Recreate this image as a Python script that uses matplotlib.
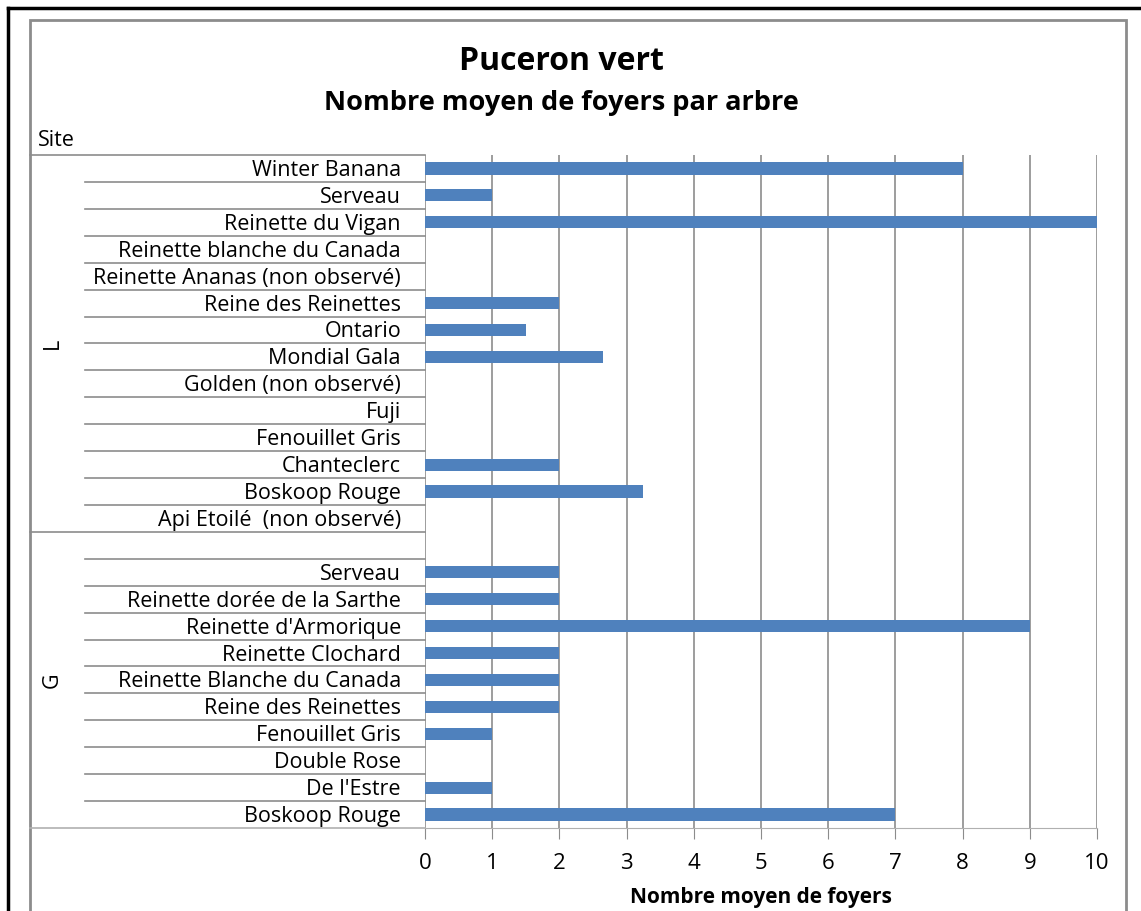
import matplotlib.pyplot as plt
from matplotlib.lines import Line2D
from matplotlib.patches import Rectangle
import numpy as np

plt.rcParams['font.family'] = ['Open Sans', 'DejaVu Sans']

# categories from top to bottom
site_l = ['Winter Banana', 'Serveau', 'Reinette du Vigan', 'Reinette blanche du Canada',
          'Reinette Ananas (non observé)', 'Reine des Reinettes', 'Ontario', 'Mondial Gala',
          'Golden (non observé)', 'Fuji', 'Fenouillet Gris', 'Chanteclerc', 'Boskoop Rouge',
          'Api Etoilé  (non observé)']
vals_l = [8, 1, 10, 0, 0, 2, 1.5, 2.65, 0, 0, 0, 2, 3.25, 0]

site_g = ['', 'Serveau', 'Reinette dorée de la Sarthe', "Reinette d'Armorique",
          'Reinette Clochard', 'Reinette Blanche du Canada', 'Reine des Reinettes',
          'Fenouillet Gris', 'Double Rose', "De l'Estre", 'Boskoop Rouge']
vals_g = [0, 2, 2, 9, 2, 2, 2, 1, 0, 1, 7]

xticks = list(range(0, 11))

W, H = 1141, 911
fig = plt.figure(figsize=(W / 100, H / 100), dpi=100)


def fx(px):
    return px / W


def fy(py):
    return 1 - py / H


# borders
fig.add_artist(Line2D([fx(8), fx(8)], [fy(8), 0], color='black', lw=2.5))
fig.add_artist(Line2D([fx(8), 1], [fy(8), fy(8)], color='black', lw=2.5))
fig.add_artist(Rectangle((fx(30), -0.01), fx(1126) - fx(30), fy(20) + 0.01,
                         fill=False, edgecolor='#8c8c8c', lw=2))

left, right, top, bottom = 425, 1097, 155, 828
ax = fig.add_axes([fx(left), fy(bottom), fx(right) - fx(left), fy(top) - fy(bottom)])

labels = site_l + site_g
values = vals_l + vals_g
n = len(labels)
y = np.arange(n)

ax.barh(y, values, height=0.45, color='#4F81BD', zorder=3)
ax.set_ylim(n - 0.5, -0.5)
ax.set_xlim(0, 10)
ax.set_xticks(xticks)
ax.set_xticklabels([str(t) for t in xticks], fontsize=16)
ax.set_yticks([])
ax.tick_params(axis='x', length=8, color='#8c8c8c', pad=10)
ax.grid(axis='x', color='#8c8c8c', lw=1.2, zorder=0)
for s in ['top', 'right', 'left']:
    ax.spines[s].set_visible(False)
ax.spines['bottom'].set_color('#b0b0b0')
ax.set_xlabel('Nombre moyen de foyers', fontsize=15, fontweight='bold', labelpad=9)

row_h = (bottom - top) / n
for i, lab in enumerate(labels):
    yc = top + (i + 0.5) * row_h + 2
    fig.text(fx(401), fy(yc), lab, ha='right', va='center', fontsize=15.5)
    if i > 0 and i != len(site_l):
        yl = top + i * row_h
        fig.add_artist(Line2D([fx(85), fx(left)], [fy(yl), fy(yl)], color='#8c8c8c', lw=1.2))

# group boundaries
ysep = top + len(site_l) * row_h
for yy in [top, ysep]:
    fig.add_artist(Line2D([fx(30), fx(left)], [fy(yy), fy(yy)], color='#8c8c8c', lw=1.2))
fig.add_artist(Line2D([fx(30), fx(left)], [fy(bottom), fy(bottom)], color='#b0b0b0', lw=1.2))

fig.text(fx(52), fy((top + ysep) / 2), 'L', rotation=90, ha='center', va='center', fontsize=15.5)
fig.text(fx(52), fy((ysep + bottom) / 2), 'G', rotation=90, ha='center', va='center', fontsize=15.5)
fig.text(fx(38), fy(141), 'Site', ha='left', va='center', fontsize=15.5)

fig.text(fx(561), fy(62), 'Puceron vert', ha='center', va='center', fontsize=23, fontweight='bold')
fig.text(fx(561), fy(103), 'Nombre moyen de foyers par arbre', ha='center', va='center',
         fontsize=19.5, fontweight='bold')

fig.savefig('out.png', dpi=100)
